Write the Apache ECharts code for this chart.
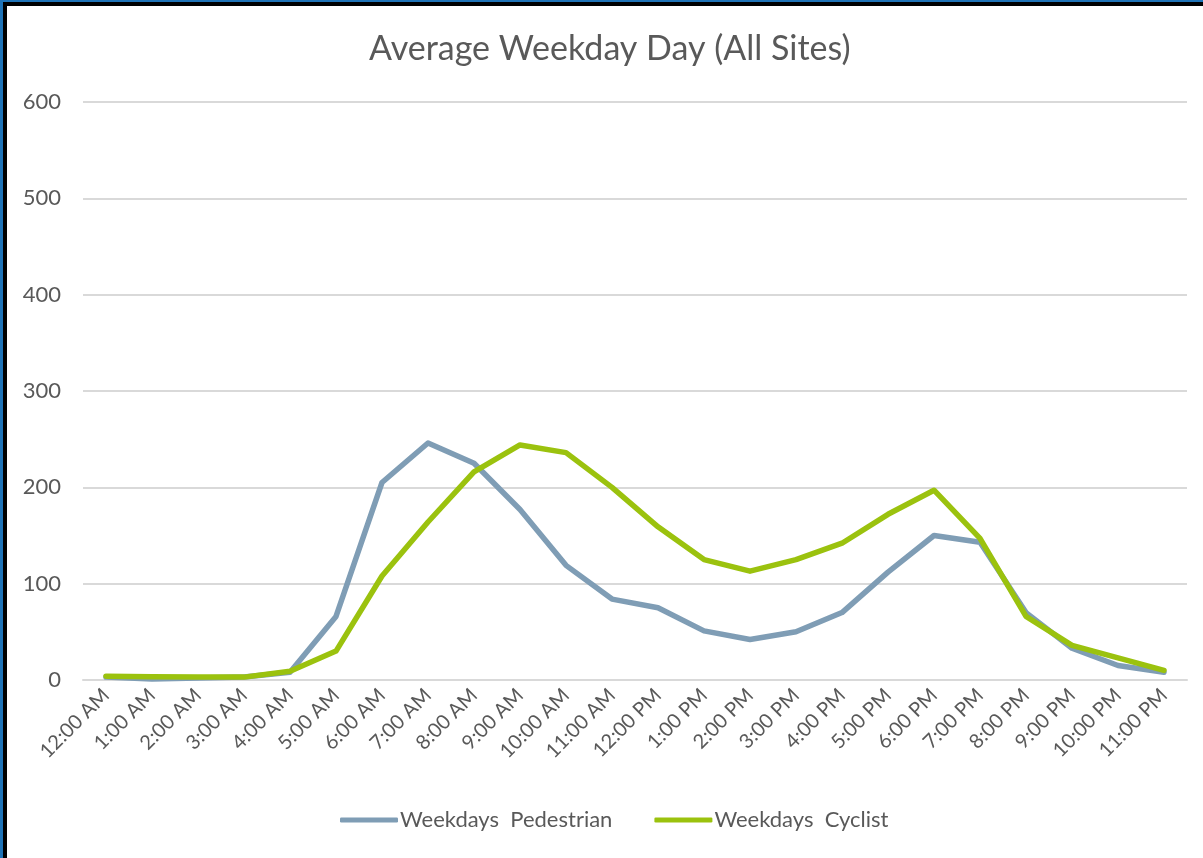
<!DOCTYPE html>
<html lang="en">
	<head>
		<meta charset="UTF-8" />
		<title>Average Weekday Day (All Sites)</title>
		<style>
			body {
				margin: 0;
				padding: 0;
				background: #1f73b7;
				overflow: hidden;
			}
			.frame {
				position: absolute;
				left: 3px;
				top: 2px;
				width: 1210px;
				height: 870px;
				border-left: 4px solid #000;
				border-top: 4px solid #000;
				background: #fff;
			}
			.chart {
				position: absolute;
				left: 0;
				top: 0;
				width: 1203px;
				height: 858px;
			}
		</style>
	</head>
	<body>
		<div class="frame"></div>
		<div class="chart"></div>
		<script src="https://cdn.jsdelivr.net/npm/echarts@6/dist/echarts.min.js"></script>
		<script>
			const hours = [
				'12:00 AM', '1:00 AM', '2:00 AM', '3:00 AM', '4:00 AM', '5:00 AM',
				'6:00 AM', '7:00 AM', '8:00 AM', '9:00 AM', '10:00 AM', '11:00 AM',
				'12:00 PM', '1:00 PM', '2:00 PM', '3:00 PM', '4:00 PM', '5:00 PM',
				'6:00 PM', '7:00 PM', '8:00 PM', '9:00 PM', '10:00 PM', '11:00 PM'
			];
			const pedestrian = [3, 1, 2, 3, 8, 66, 205, 246, 225, 177, 119, 84, 75, 51, 42, 50, 70, 112, 150, 143, 70, 33, 15, 8];
			const cyclist = [4, 3.5, 3, 3, 9, 30, 108, 164, 216, 244, 236, 200, 159, 125, 113, 125, 142, 172, 197, 147, 66, 36, 23, 10];

			const font = 'Lato, "Open Sans", sans-serif';
			const textColor = '#595959';

			const instance = echarts.init(document.querySelector('.chart'));
			const option = {
				backgroundColor: 'transparent',
				animation: false,
				title: {
					text: 'Average Weekday Day (All Sites)',
					left: 364,
					top: 27,
					textStyle: { color: textColor, fontSize: 34, fontWeight: 'normal', fontFamily: font }
				},
				grid: { left: 83, right: 16, top: 102, bottom: 178 },
				legend: {
					bottom: 22,
					left: 335,
					itemWidth: 58,
					itemHeight: 5,
					itemGap: 42,
					icon: 'roundRect',
					textStyle: { color: textColor, fontSize: 22, fontFamily: font, padding: [0, 0, 0, -3] },
					data: ['Weekdays  Pedestrian', 'Weekdays  Cyclist']
				},
				xAxis: {
					type: 'category',
					data: hours,
					boundaryGap: true,
					axisLine: { lineStyle: { color: '#d9d9d9', width: 2 } },
					axisTick: { show: false },
					axisLabel: { rotate: 45, margin: 12, color: textColor, fontSize: 20, fontFamily: font, interval: 0 }
				},
				yAxis: {
					type: 'value',
					min: 0,
					max: 600,
					interval: 100,
					axisLine: { show: false },
					axisTick: { show: false },
					splitLine: { lineStyle: { color: '#d9d9d9', width: 2 } },
					axisLabel: { margin: 22, color: textColor, fontSize: 22, fontFamily: font }
				},
				series: [
					{
						name: 'Weekdays  Pedestrian',
						type: 'line',
						data: pedestrian,
						symbol: 'none',
						color: '#7f9db5',
						lineStyle: { width: 5.5, color: '#7f9db5', cap: 'round', join: 'round' }
					},
					{
						name: 'Weekdays  Cyclist',
						type: 'line',
						data: cyclist,
						symbol: 'none',
						color: '#9bc20e',
						lineStyle: { width: 5.5, color: '#9bc20e', cap: 'round', join: 'round' }
					}
				]
			};
			instance.setOption(option);
		</script>
	</body>
</html>
